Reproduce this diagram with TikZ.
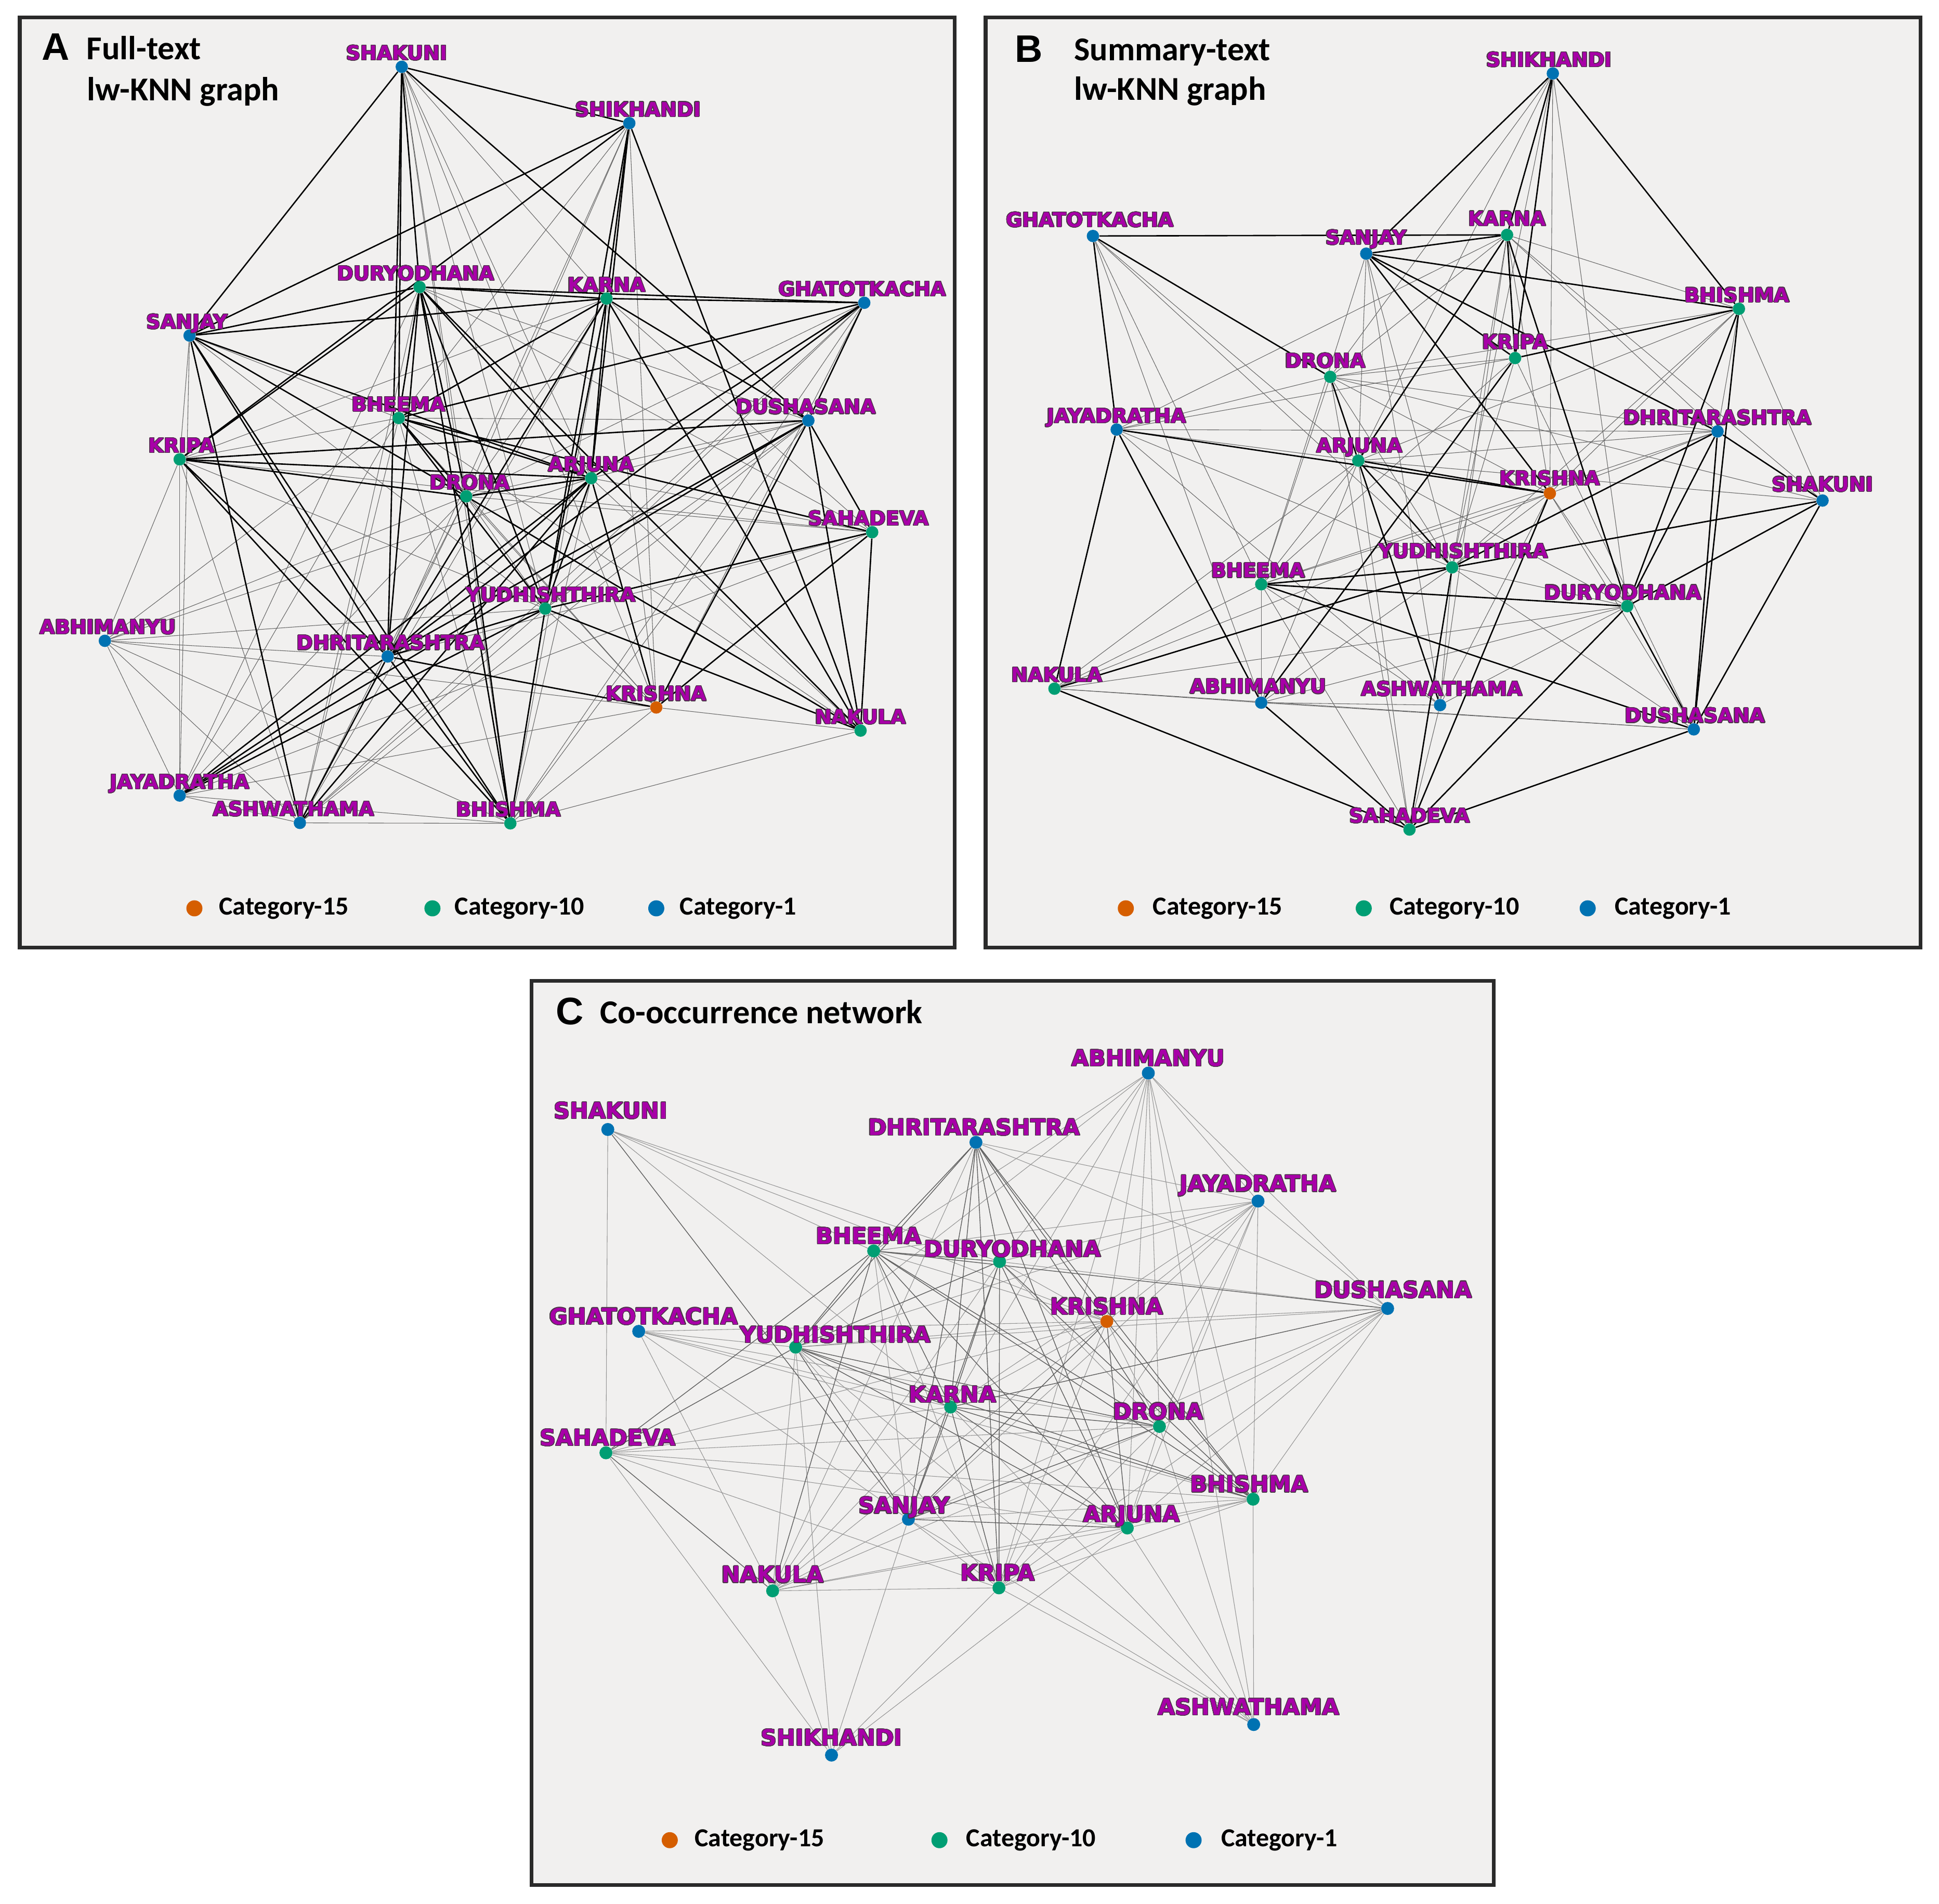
\documentclass[tikz,border=0pt]{standalone}
\usepackage{fontspec}
\usepackage{contour}
\contourlength{0.5pt}
\contournumber{24}
\setmainfont{Carlito}
\newfontfamily\lblfont{DejaVu Sans}
\newfontfamily\letfont{Liberation Sans}
\definecolor{cblue}{HTML}{0072B2}
\definecolor{cgreen}{HTML}{009E73}
\definecolor{corange}{HTML}{D55E00}
\definecolor{lblmag}{HTML}{A800A8}
\definecolor{lblout}{HTML}{4A3846}
\definecolor{panelbg}{HTML}{F1F0EF}
\definecolor{framec}{HTML}{2A2A2A}
\newcommand\lbl[1]{\contour{lblout}{#1}}
\pgfdeclarelayer{bgl}
\pgfdeclarelayer{edl}
\pgfsetlayers{bgl,edl,main}
\tikzset{
  pA/.style={circle,inner sep=0pt,minimum size=10pt,fill=#1,draw=none,label distance=5pt},
  pC/.style={circle,inner sep=0pt,minimum size=10.5pt,fill=#1,draw=none,label distance=6pt},
  lA/.style={font=\lblfont\bfseries\fontsize{16}{16}\selectfont,text=lblmag,inner sep=0pt,text height=11.6pt,text depth=0pt},
  lC/.style={font=\lblfont\bfseries\fontsize{18}{18}\selectfont,text=lblmag,inner sep=0pt,text height=13pt,text depth=0pt},
  ea/.style={draw=black,line width=1.1pt},
  eb/.style={draw=black!60,line width=0.45pt},
  ec/.style={draw=black!62,line width=0.6pt},
  ed/.style={draw=black!42,line width=0.45pt},
  panel/.style={fill=panelbg,draw=framec,line width=3pt},
  letter/.style={font=\letfont\bfseries\fontsize{31}{31}\selectfont,inner sep=0pt},
  ttl/.style={font=\bfseries\fontsize{27}{27}\selectfont,inner sep=0pt,anchor=base west},
  lgdot/.style={circle,inner sep=0pt,minimum size=13pt,fill=#1,draw=none},
  lgtxt/.style={font=\bfseries\fontsize{21}{21}\selectfont,inner sep=0pt,anchor=west},
}
\begin{document}
\begin{tikzpicture}[x=1pt,y=-1pt]
\useasboundingbox (0,0) rectangle (1568,1539);
\begin{pgfonlayer}{bgl}
\fill[white] (0,0) rectangle (1568,1539);
\draw[panel] (16,14) rectangle (772,766);
\draw[panel] (797,14) rectangle (1553,766);
\draw[panel] (430,793) rectangle (1208,1524);
\end{pgfonlayer}

% ---------------- Panel A ----------------
\node[letter] (tA) at (45,38) {A};
\node[ttl] (tA1) at (70,48.3) {Full-text};
\node[ttl] (tA2) at (70.4,81.2) {lw-KNN graph};

\node[pA=cblue,label={[lA,xshift=-4pt]above:\lbl{SHAKUNI}}] (aSHAK) at (324.9,54.0) {};
\node[pA=cblue,label={[lA,xshift=7pt]above:\lbl{SHIKHANDI}}] (aSHIK) at (508.9,99.6) {};
\node[pA=cgreen,label={[lA,xshift=-3pt]above:\lbl{DURYODHANA}}] (aDURY) at (339.3,232.1) {};
\node[pA=cgreen,label={[lA]above:\lbl{KARNA}}] (aKARN) at (490.5,241.4) {};
\node[pA=cblue,label={[lA,xshift=-1.5pt]above:\lbl{GHATOTKACHA}}] (aGHAT) at (698.9,244.8) {};
\node[pA=cblue,label={[lA,xshift=-2pt]above:\lbl{SANJAY}}] (aSANJ) at (153.3,271.3) {};
\node[pA=cgreen,label={[lA]above:\lbl{BHEEMA}}] (aBHEE) at (322.4,338.0) {};
\node[pA=cblue,label={[lA,xshift=-2pt]above:\lbl{DUSHASANA}}] (aDUSH) at (653.7,340.0) {};
\node[pA=cgreen,label={[lA,xshift=1.5pt]above:\lbl{KRIPA}}] (aKRIP) at (145.3,371.4) {};
\node[pA=cgreen,label={[lA,xshift=3pt]above:\lbl{DRONA}}] (aDRON) at (377.0,401.3) {};
\node[pA=cgreen,label={[lA]above:\lbl{ARJUNA}}] (aARJU) at (478.1,386.6) {};
\node[pA=cgreen,label={[lA,xshift=-3pt]above:\lbl{SAHADEVA}}] (aSAHA) at (705.3,430.3) {};
\node[pA=cgreen,label={[lA,xshift=4.5pt]above:\lbl{YUDHISHTHIRA}}] (aYUDH) at (440.9,492.1) {};
\node[pA=cblue,label={[lA,xshift=2.5pt]above:\lbl{ABHIMANYU}}] (aABHI) at (84.8,518.1) {};
\node[pA=cblue,label={[lA,xshift=2.5pt]above:\lbl{DHRITARASHTRA}}] (aDHRI) at (313.5,530.8) {};
\node[pA=corange,label={[lA]above:\lbl{KRISHNA}}] (aKRIS) at (530.7,572.0) {};
\node[pA=cgreen,label={[lA]above:\lbl{NAKULA}}] (aNAKU) at (695.9,590.7) {};
\node[pA=cblue,label={[lA]above:\lbl{JAYADRATHA}}] (aJAYA) at (145.3,643.2) {};
\node[pA=cblue,label={[lA,xshift=-5pt]above:\lbl{ASHWATHAMA}}] (aASHW) at (242.5,665.3) {};
\node[pA=cgreen,label={[lA,xshift=-1.5pt]above:\lbl{BHISHMA}}] (aBHIS) at (412.7,665.7) {};

\begin{pgfonlayer}{edl}
\foreach \u/\v in {aSHAK/aDRON, aSHAK/aARJU, aSHAK/aYUDH, aSHAK/aKRIS, aSHAK/aBHIS, aSHAK/aKARN,
 aSHIK/aBHEE, aSHIK/aDRON, aSHIK/aDHRI, aSHIK/aKRIS,
 aDURY/aDUSH, aDURY/aSAHA, aDURY/aASHW, aDURY/aJAYA,
 aKARN/aKRIS, aKARN/aDRON, aKARN/aKRIP, aKARN/aSAHA, aKARN/aBHIS, aKARN/aASHW,
 aGHAT/aKRIS, aGHAT/aYUDH, aGHAT/aBHIS, aGHAT/aDRON, aGHAT/aASHW,
 aSANJ/aKRIP, aSANJ/aBHEE, aSANJ/aYUDH, aSANJ/aJAYA,
 aKRIP/aJAYA, aKRIP/aABHI, aKRIP/aASHW, aKRIP/aBHEE, aKRIP/aSAHA, aKRIP/aYUDH,
 aBHEE/aDUSH, aBHEE/aKRIS, aBHEE/aJAYA, aBHEE/aASHW, aBHEE/aNAKU, aBHEE/aBHIS,
 aDUSH/aARJU, aDUSH/aYUDH, aDUSH/aDRON, aDUSH/aASHW, aDUSH/aBHIS,
 aDRON/aSAHA, aDRON/aYUDH, aDRON/aKRIS, aDRON/aASHW, aDRON/aABHI, aDRON/aDHRI,
 aARJU/aSAHA, aARJU/aNAKU, aARJU/aBHIS, aARJU/aABHI,
 aSAHA/aDHRI, aSAHA/aJAYA,
 aYUDH/aABHI, aYUDH/aASHW, aYUDH/aKRIS,
 aABHI/aJAYA, aABHI/aASHW, aABHI/aKRIS, aABHI/aBHIS, aABHI/aDHRI, aABHI/aBHEE,
 aJAYA/aKRIS, aJAYA/aBHIS, aJAYA/aASHW, aJAYA/aDRON,
 aASHW/aBHIS, aKRIS/aBHIS, aKRIS/aNAKU, aBHIS/aNAKU}
  \draw[eb] (\u) -- (\v);
\foreach \u/\v in {aSHAK/aSHIK, aSHAK/aSANJ, aSHAK/aBHEE, aSHAK/aDHRI, aSHAK/aDUSH, aSHAK/aDURY,
 aSHIK/aSANJ, aSHIK/aKRIP, aSHIK/aKARN, aSHIK/aARJU, aSHIK/aYUDH, aSHIK/aNAKU,
 aDURY/aKARN, aDURY/aGHAT, aDURY/aSANJ, aDURY/aKRIP, aDURY/aBHEE, aDURY/aDRON, aDURY/aDHRI,
 aDURY/aYUDH, aDURY/aBHIS, aDURY/aARJU, aDURY/aNAKU,
 aKARN/aGHAT, aKARN/aSANJ, aKARN/aARJU, aKARN/aYUDH, aKARN/aDHRI, aKARN/aBHEE, aKARN/aNAKU, aKARN/aDUSH,
 aGHAT/aBHEE, aGHAT/aDUSH, aGHAT/aARJU, aGHAT/aDHRI,
 aSANJ/aARJU, aSANJ/aDRON, aSANJ/aDHRI, aSANJ/aASHW, aSANJ/aBHIS,
 aKRIP/aDUSH, aKRIP/aDRON, aKRIP/aARJU, aKRIP/aDHRI, aKRIP/aBHIS,
 aBHEE/aDRON, aBHEE/aARJU, aBHEE/aSAHA, aBHEE/aYUDH,
 aDUSH/aSAHA, aDUSH/aNAKU, aDUSH/aKRIS, aDUSH/aDHRI, aDUSH/aJAYA,
 aARJU/aDRON, aARJU/aYUDH, aARJU/aKRIS, aARJU/aDHRI, aARJU/aASHW, aARJU/aJAYA,
 aYUDH/aDHRI, aYUDH/aBHIS, aYUDH/aNAKU, aYUDH/aSAHA,
 aDHRI/aKRIS, aDHRI/aBHIS, aDHRI/aASHW, aDHRI/aJAYA,
 aSAHA/aNAKU, aSAHA/aKRIS, aDRON/aBHIS, aDRON/aNAKU, aJAYA/aYUDH}
  \draw[ea] (\u) -- (\v);
\end{pgfonlayer}

\node[lgdot=corange] (lgA1) at (157.2,734.4) {};
\node[lgtxt] (lgA1t) at (177,734.4) {Category-15};
\node[lgdot=cgreen] (lgA2) at (349.7,734.4) {};
\node[lgtxt] (lgA2t) at (367.5,734.4) {Category-10};
\node[lgdot=cblue] (lgA3) at (530.7,734.4) {};
\node[lgtxt] (lgA3t) at (549.6,734.4) {Category-1};

% ---------------- Panel B ----------------
\node[letter] (tB) at (832,39.7) {B};
\node[ttl] (tB1) at (868.5,49) {Summary-text};
\node[ttl] (tB2) at (868.5,81) {lw-KNN graph};

\node[pA=cblue,label={[lA,xshift=-3pt]above:\lbl{SHIKHANDI}}] (bSHIK) at (1255.7,59.4) {};
\node[pA=cblue,label={[lA,xshift=-2.5pt,yshift=2pt]above:\lbl{GHATOTKACHA}}] (bGHAT) at (883.8,190.8) {};
\node[pA=cblue,label={[lA,yshift=2pt]above:\lbl{SANJAY}}] (bSANJ) at (1104.8,205.1) {};
\node[pA=cgreen,label={[lA,yshift=2pt]above:\lbl{KARNA}}] (bKARN) at (1218.7,189.9) {};
\node[pA=cgreen,label={[lA,xshift=-1.5pt]above:\lbl{BHISHMA}}] (bBHIS) at (1406.2,249.7) {};
\node[pA=cgreen,label={[lA,yshift=2pt]above:\lbl{KRIPA}}] (bKRIP) at (1225.2,289.5) {};
\node[pA=cgreen,label={[lA,xshift=-4pt,yshift=2pt]above:\lbl{DRONA}}] (bDRON) at (1075.7,304.7) {};
\node[pA=cblue,label={[lA]above:\lbl{JAYADRATHA}}] (bJAYA) at (903.0,347.3) {};
\node[pA=cblue,label={[lA]above:\lbl{DHRITARASHTRA}}] (bDHRI) at (1388.9,348.8) {};
\node[pA=cgreen,label={[lA,xshift=1pt,yshift=1pt]above:\lbl{ARJUNA}}] (bARJU) at (1098.4,372.4) {};
\node[pA=corange,label={[lA,yshift=1pt]above:\lbl{KRISHNA}}] (bKRIS) at (1253.3,398.9) {};
\node[pA=cblue,label={[lA,yshift=2pt]above:\lbl{SHAKUNI}}] (bSHAK) at (1473.8,404.7) {};
\node[pA=cgreen,label={[lA,xshift=9pt,yshift=2pt]above:\lbl{YUDHISHTHIRA}}] (bYUDH) at (1174.3,458.7) {};
\node[pA=cgreen,label={[lA,xshift=-2.5pt]above:\lbl{BHEEMA}}] (bBHEE) at (1019.9,472.4) {};
\node[pA=cgreen,label={[lA,xshift=-3.5pt]above:\lbl{DURYODHANA}}] (bDURY) at (1315.9,490.1) {};
\node[pA=cgreen,label={[lA,xshift=2pt]above:\lbl{NAKULA}}] (bNAKU) at (852.7,556.8) {};
\node[pA=cblue,label={[lA,xshift=-2.5pt,yshift=2pt]above:\lbl{ABHIMANYU}}] (bABHI) at (1019.9,568.1) {};
\node[pA=cblue,label={[lA,xshift=1.5pt,yshift=2pt]above:\lbl{ASHWATHAMA}}] (bASHW) at (1164.5,570.1) {};
\node[pA=cblue,label={[lA,xshift=1pt]above:\lbl{DUSHASANA}}] (bDUSH) at (1369.7,589.7) {};
\node[pA=cgreen,label={[lA]above:\lbl{SAHADEVA}}] (bSAHA) at (1139.8,670.7) {};

\begin{pgfonlayer}{edl}
\foreach \u/\v in {bSHIK/bDRON, bSHIK/bARJU, bSHIK/bKRIS, bSHIK/bYUDH, bSHIK/bDURY,
 bGHAT/bBHEE, bGHAT/bYUDH, bGHAT/bARJU, bGHAT/bABHI,
 bSANJ/bARJU, bSANJ/bBHEE, bSANJ/bYUDH, bSANJ/bASHW,
 bKARN/bBHIS, bKARN/bDHRI, bKARN/bSHAK, bKARN/bDRON, bKARN/bKRIS, bKARN/bYUDH, bKARN/bASHW, bKARN/bJAYA,
 bKRIP/bDRON, bKRIP/bYUDH, bKRIP/bJAYA, bKRIP/bDUSH, bKRIP/bBHEE,
 bBHIS/bDHRI, bBHIS/bSHAK, bBHIS/bKRIS, bBHIS/bYUDH, bBHIS/bARJU, bBHIS/bDRON,
 bDRON/bJAYA, bDRON/bDHRI, bDRON/bSHAK, bDRON/bYUDH, bDRON/bBHEE, bDRON/bASHW, bDRON/bKRIS,
 bJAYA/bYUDH, bJAYA/bDHRI, bJAYA/bARJU, bJAYA/bASHW,
 bDHRI/bKRIS, bDHRI/bBHEE, bDHRI/bARJU,
 bARJU/bSHAK, bARJU/bBHEE, bARJU/bABHI, bARJU/bSAHA, bARJU/bNAKU, bARJU/bDURY,
 bKRIS/bYUDH, bKRIS/bBHEE, bKRIS/bDURY, bKRIS/bNAKU, bKRIS/bASHW, bKRIS/bDUSH,
 bYUDH/bDURY, bYUDH/bASHW, bYUDH/bABHI, bYUDH/bDUSH,
 bBHEE/bNAKU, bBHEE/bABHI, bBHEE/bSAHA, bBHEE/bASHW,
 bDURY/bABHI, bDURY/bNAKU, bDURY/bASHW,
 bNAKU/bABHI, bABHI/bASHW, bABHI/bDUSH, bNAKU/bDUSH,
 bASHW/bSAHA, bDRON/bSAHA}
  \draw[eb] (\u) -- (\v);
\foreach \u/\v in {bSHIK/bSANJ, bSHIK/bBHIS, bSHIK/bKARN, bSHIK/bKRIP,
 bGHAT/bKARN, bGHAT/bDRON, bGHAT/bJAYA,
 bSANJ/bKARN, bSANJ/bBHIS, bSANJ/bKRIP, bSANJ/bKRIS, bSANJ/bDHRI,
 bKARN/bKRIP, bKARN/bDURY, bKARN/bARJU,
 bKRIP/bBHIS, bKRIP/bABHI,
 bBHIS/bDURY, bBHIS/bDUSH,
 bDHRI/bSHAK, bDHRI/bDURY, bDHRI/bDUSH, bDHRI/bYUDH,
 bJAYA/bNAKU, bJAYA/bABHI, bJAYA/bKRIS,
 bARJU/bKRIS, bARJU/bDRON, bARJU/bYUDH, bARJU/bASHW,
 bYUDH/bBHEE, bYUDH/bSHAK, bYUDH/bNAKU, bYUDH/bSAHA,
 bBHEE/bDURY, bBHEE/bDUSH,
 bDURY/bSHAK, bDURY/bDUSH, bDURY/bSAHA,
 bSHAK/bDUSH, bNAKU/bSAHA, bABHI/bSAHA, bDUSH/bSAHA, bKRIS/bSAHA}
  \draw[ea] (\u) -- (\v);
\end{pgfonlayer}

\node[lgdot=corange] (lgB1) at (910.4,734.4) {};
\node[lgtxt] (lgB1t) at (932.1,734.4) {Category-15};
\node[lgdot=cgreen] (lgB2) at (1102.8,734.4) {};
\node[lgtxt] (lgB2t) at (1123.5,734.4) {Category-10};
\node[lgdot=cblue] (lgB3) at (1283.9,734.4) {};
\node[lgtxt] (lgB3t) at (1305.6,734.4) {Category-1};

% ---------------- Panel C ----------------
\node[letter] (tC) at (460.6,817.8) {C};
\node[ttl] (tC1) at (485,827.3) {Co-occurrence network};

\node[pC=cblue,label={[lC]above:\lbl{ABHIMANYU}}] (cABHI) at (928.6,867.6) {};
\node[pC=cblue,label={[lC,xshift=2.5pt,yshift=3pt]above:\lbl{SHAKUNI}}] (cSHAK) at (491.5,913.2) {};
\node[pC=cblue,label={[lC,xshift=-1.5pt]above:\lbl{DHRITARASHTRA}}] (cDHRI) at (789.2,923.6) {};
\node[pC=cblue,label={[lC,yshift=2pt]above:\lbl{JAYADRATHA}}] (cJAYA) at (1017.3,971.1) {};
\node[pC=cgreen,label={[lC,xshift=-4pt]above:\lbl{BHEEMA}}] (cBHEE) at (706.5,1011.4) {};
\node[pC=cgreen,label={[lC,xshift=10.5pt,yshift=-2pt]above:\lbl{DURYODHANA}}] (cDURY) at (808.3,1020.0) {};
\node[pC=cblue,label={[lC,xshift=4.5pt,yshift=3pt]above:\lbl{DUSHASANA}}] (cDUSH) at (1122.1,1057.9) {};
\node[pC=cblue,label={[lC,xshift=4pt]above:\lbl{GHATOTKACHA}}] (cGHAT) at (516.5,1076.4) {};
\node[pC=corange,label={[lC]above:\lbl{KRISHNA}}] (cKRIS) at (895.0,1068.4) {};
\node[pC=cgreen,label={[lC,xshift=32pt,yshift=-2pt]above:\lbl{YUDHISHTHIRA}}] (cYUDH) at (643.4,1089.2) {};
\node[pC=cgreen,label={[lC,xshift=1.5pt,yshift=-2pt]above:\lbl{KARNA}}] (cKARN) at (768.7,1137.6) {};
\node[pC=cgreen,label={[lC,xshift=-1pt]above:\lbl{DRONA}}] (cDRON) at (937.6,1153.3) {};
\node[pC=cgreen,label={[lC,xshift=1.5pt]above:\lbl{SAHADEVA}}] (cSAHA) at (490.0,1174.6) {};
\node[pC=cgreen,label={[lC,xshift=-3pt]above:\lbl{BHISHMA}}] (cBHIS) at (1013.3,1212.1) {};
\node[pC=cblue,label={[lC,xshift=-3.5pt,yshift=-1pt]above:\lbl{SANJAY}}] (cSANJ) at (734.6,1228.3) {};
\node[pC=cgreen,label={[lC,xshift=3.5pt,yshift=-1pt]above:\lbl{ARJUNA}}] (cARJU) at (911.6,1235.4) {};
\node[pC=cgreen,label={[lC,yshift=1pt]above:\lbl{NAKULA}}] (cNAKU) at (624.8,1286.2) {};
\node[pC=cgreen,label={[lC,xshift=-1pt]above:\lbl{KRIPA}}] (cKRIP) at (807.8,1283.8) {};
\node[pC=cblue,label={[lC,yshift=2pt]above:\lbl{SHIKHANDI}}] (cSHIK) at (672.4,1419.0) {};
\node[pC=cblue,label={[lC,xshift=-4pt,yshift=2pt]above:\lbl{ASHWATHAMA}}] (cASHW) at (1013.8,1394.3) {};

\begin{pgfonlayer}{edl}
\foreach \u/\v in {cSHAK/cSAHA, cSHAK/cBHEE, cSHAK/cDURY, cSHAK/cKRIS, cSHAK/cKARN,
 cABHI/cBHEE, cABHI/cDURY, cABHI/cJAYA, cABHI/cDUSH, cABHI/cKRIS, cABHI/cDRON, cABHI/cBHIS,
 cABHI/cARJU, cABHI/cKRIP, cABHI/cASHW, cABHI/cKARN, cABHI/cYUDH,
 cDHRI/cJAYA, cDHRI/cDUSH, cDHRI/cNAKU,
 cJAYA/cBHEE, cJAYA/cDURY, cJAYA/cKRIS, cJAYA/cDRON, cJAYA/cBHIS, cJAYA/cARJU, cJAYA/cKARN,
 cJAYA/cSANJ, cJAYA/cDUSH, cJAYA/cKRIP, cJAYA/cYUDH,
 cBHEE/cKRIS, cBHEE/cSANJ, cBHEE/cKRIP,
 cDURY/cNAKU, cDURY/cDRON, cDURY/cDUSH, cDURY/cKRIS,
 cDUSH/cKRIS, cDUSH/cYUDH, cDUSH/cDRON, cDUSH/cBHIS, cDUSH/cARJU, cDUSH/cSANJ, cDUSH/cKRIP,
 cGHAT/cYUDH, cGHAT/cKRIS, cGHAT/cKARN, cGHAT/cDRON, cGHAT/cNAKU, cGHAT/cBHIS, cGHAT/cSANJ,
 cKRIS/cYUDH, cKRIS/cKARN, cKRIS/cDRON, cKRIS/cKRIP, cKRIS/cSAHA, cKRIS/cNAKU,
 cYUDH/cKRIP, cYUDH/cNAKU, cYUDH/cSHIK, cYUDH/cASHW,
 cKARN/cNAKU, cKARN/cSAHA, cKARN/cASHW,
 cDRON/cARJU, cDRON/cKRIP, cDRON/cNAKU, cDRON/cASHW, cDRON/cSAHA,
 cSAHA/cKRIP, cSAHA/cBHIS, cSAHA/cSHIK, cSAHA/cARJU,
 cBHIS/cARJU, cBHIS/cSANJ, cBHIS/cKRIP, cBHIS/cASHW, cBHIS/cNAKU,
 cSANJ/cKRIP, cSANJ/cNAKU, cSANJ/cSHIK, cSANJ/cASHW,
 cARJU/cKRIP, cARJU/cNAKU, cARJU/cASHW, cARJU/cSHIK,
 cNAKU/cKRIP, cNAKU/cSHIK, cKRIP/cSHIK, cKRIP/cASHW}
  \draw[ed] (\u) -- (\v);
\foreach \u/\v in {cDHRI/cBHEE, cDHRI/cDURY, cDHRI/cYUDH, cDHRI/cKARN, cDHRI/cKRIS, cDHRI/cDRON,
 cDHRI/cBHIS, cDHRI/cSANJ, cDHRI/cKRIP, cDHRI/cARJU,
 cBHEE/cDURY, cBHEE/cYUDH, cBHEE/cSAHA, cBHEE/cNAKU, cBHEE/cBHIS, cBHEE/cDUSH, cBHEE/cKARN,
 cBHEE/cARJU, cBHEE/cDRON,
 cDURY/cYUDH, cDURY/cKARN, cDURY/cSANJ, cDURY/cARJU, cDURY/cBHIS, cDURY/cKRIP,
 cYUDH/cKARN, cYUDH/cARJU, cYUDH/cSANJ, cYUDH/cSAHA, cYUDH/cBHIS, cYUDH/cDRON,
 cKARN/cDRON, cKARN/cBHIS, cKARN/cARJU, cKARN/cSANJ, cKARN/cKRIP, cKARN/cDUSH,
 cKRIS/cBHIS, cKRIS/cSANJ, cKRIS/cARJU,
 cDRON/cBHIS, cDRON/cSANJ, cSANJ/cARJU, cSAHA/cNAKU, cSHAK/cSANJ}
  \draw[ec] (\u) -- (\v);
\end{pgfonlayer}

\node[lgdot=corange] (lgC1) at (541.6,1487.8) {};
\node[lgtxt] (lgC1t) at (561.6,1487.8) {Category-15};
\node[lgdot=cgreen] (lgC2) at (759.7,1487.8) {};
\node[lgtxt] (lgC2t) at (781.2,1487.8) {Category-10};
\node[lgdot=cblue] (lgC3) at (965.2,1487.8) {};
\node[lgtxt] (lgC3t) at (987.3,1487.8) {Category-1};
\end{tikzpicture}
\end{document}
